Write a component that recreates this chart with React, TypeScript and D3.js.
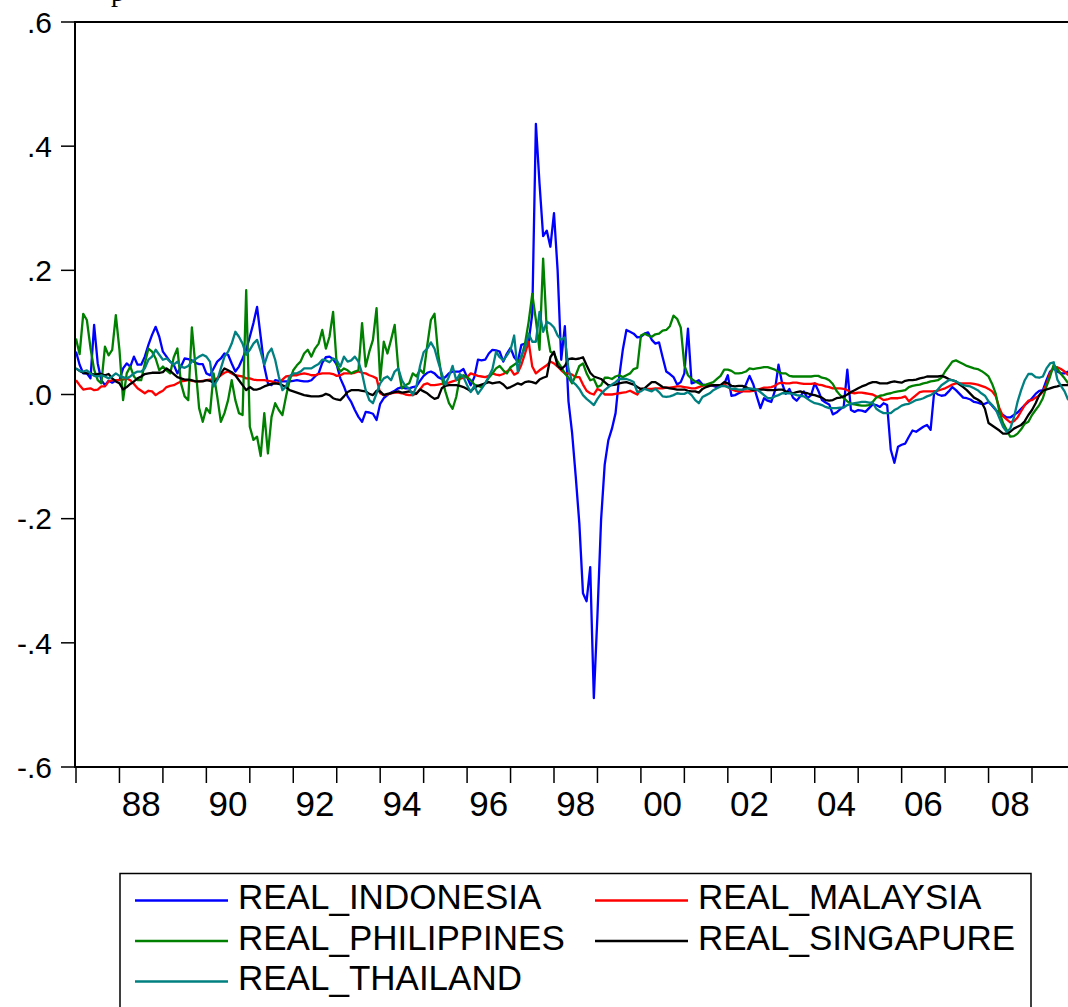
import React from "react";
import * as d3 from "d3";

// Monthly observations starting 1987M01, values in hundredths (0.01 units)
const START_YEAR = 1987;
const UNIT = 0.01;

const REAL_INDONESIA = [
  6.9,4.8,3.4,3.4,2.6,11.2,5,2.3,1.5,2.2,1.9,2.3,
  2.3,4.2,5,4.5,6.1,4.8,4.8,6.1,8,9.6,10.9,9.3,
  6.9,6.1,5.3,4.8,3.4,4.5,5.8,5.7,5.5,5.1,4.9,4.9,
  3.4,3.1,4.2,5.3,5.8,6.6,6.4,5,3.7,4.5,5.8,7.2,
  9.3,11.5,14.1,9.3,4.5,1.8,1.5,2.3,2.2,2.1,2.1,2.1,
  2.2,2.3,2.2,2.1,2.1,2.3,2.9,3.4,5.1,6,6.1,5.7,
  4.8,2.6,1.3,-0.3,-1.2,-2.5,-3.6,-4.4,-2.8,-2.9,-3.1,-4.1,
  -1.5,-0.6,-0.1,0.3,0.6,1,1.2,1,1,1.2,1.3,2.2,
  3,3.5,3.7,3.4,2.8,2.5,2.8,3.4,3.7,3.7,3.7,4.1,
  2.8,1.5,2.8,5.6,5.5,5.6,6.6,7.2,7.1,6.9,5.3,6.6,
  7.5,6,5.3,8,8.2,8.5,13,43.6,34,25.5,26.4,23.8,
  29.2,20,5.6,11,-1.1,-6.2,-13.2,-20.8,-32,-33.3,-27.8,-48.9,
  -35.5,-20.2,-11.3,-7.4,-5.5,-3,2.8,7.2,10.4,10.1,9.8,9.2,
  9.3,9.8,10,8.8,8.2,8.4,6,3.7,3.3,2.8,1.6,2,
  3.4,10.6,1.8,2,2.3,1.6,1.5,1.6,1.4,1.2,1.4,1.7,
  3.1,-0.2,-0.1,0.2,0.5,1.6,3,1.7,-0.3,-2.2,-0.6,-1,
  -1.2,0.6,4.8,1.8,0.1,0.9,-0.5,-1,-0.3,0.5,-0.6,-0.1,
  1.8,0.6,-0.9,-1.3,-1.6,-3.2,-2.9,-2.4,-2,4,-2.5,-2.8,
  -2.5,-2.6,-2.8,-2.2,-1.6,-1.7,-2,-1.4,-1.7,-8.9,-11,-8.4,
  -8.1,-7.9,-6.8,-5.8,-6,-5.6,-5.2,-4.9,-5.7,0.5,0,-0.2,
  -0.1,0.5,1.2,0.7,0.1,-0.5,-0.6,-0.8,-1.2,-1.3,-1.5,-1.5,
  -1.2,-1.8,-2.5,-3,-3.3,-3.7,-3.7,-3.3,-2.9,-2.3,-1.7,-1.2,
  -0.6,0.1,0.6,0.7,2.3,3.7,4.2,3.7,3.4,3.4,3.7,
];

const REAL_MALAYSIA = [
  2.3,1.5,0.8,0.9,1,0.7,0.8,1.3,1.3,2.1,2.3,2.3,
  2.3,2.4,2.6,2.3,1.7,1,0.6,0.2,0.6,0.5,-0.1,0.3,
  0.6,1.2,1.4,1.5,1.8,2.1,2.2,2.3,2.2,2.1,2.1,2.2,
  2.3,2.4,2.4,2.6,3.1,3.5,3.7,3.4,3.1,3,2.9,2.6,
  2.6,2.4,2.3,2.3,2.3,2.2,2.1,1.9,1.8,2.4,2.9,3,
  3.1,3.1,3.3,3.4,3.3,3.1,3.1,3.3,3.4,3.4,3.4,3.3,
  3,3.1,3.4,3.4,3.4,3.5,3.7,3.5,3.4,3.1,2.9,2.6,
  0.2,-0.1,0,0.2,0.3,0.3,0.2,0,-0.1,-0.1,0.2,0.8,
  1.6,1.8,1.5,1.5,1.6,1.7,1.8,1.9,2.1,2.3,2.5,2.7,
  2.8,3.4,3.2,3,2.9,2.8,3,3.4,3.2,3.1,3.3,3.7,
  4.1,3.2,3.5,4.8,6.6,8.5,4.5,3.4,3.9,4.3,4.7,5.3,
  5,4.5,3.9,3.4,3.4,3.2,2.8,2.8,1.6,0.6,0.2,0,
  0.9,0.6,0,0,0,0.1,0.2,0.3,0.4,0.6,0.3,0,
  0.9,0.9,0.9,0.9,1,1,1,1.1,1.1,1.2,1.3,1.3,
  1.2,1.1,1,1,1.2,1.4,1.5,1.5,1.5,1.5,1.5,1.7,
  1.2,0.8,0.6,0.5,0.5,0.5,0.5,0.6,0.7,0.9,1.1,1.1,
  1.2,1.4,1.8,1.9,1.8,1.8,1.9,1.9,1.8,1.7,1.7,1.7,
  1.8,1.6,1.5,1.3,1.2,1,1,1,0.9,0.7,0.3,0.2,
  0.3,0.3,0.2,0.1,0,-0.3,-0.5,-0.9,-0.8,-0.6,-0.6,-0.6,
  -0.5,-0.3,-1.1,-0.6,-0.1,0.4,0.5,0.5,0.5,0.5,0.6,0.8,
  1,1.3,1.6,1.8,1.8,1.8,1.8,1.8,1.7,1.6,1.4,1.2,
  0.9,0.5,-0.3,-2.2,-3.5,-4,-4.5,-4.3,-3.7,-2.7,-1.7,-1,
  -0.9,-0.5,-0.2,0.5,1.6,3.5,4.3,4.4,4.1,3.7,3.1,
];

const REAL_PHILIPPINES = [
  9,6.5,13,12,7.5,4,2.3,1.8,7.7,6.3,7.2,12.8,
  7.2,-0.9,3.4,4.5,2.9,2.3,2.3,5,7.4,6.9,5.8,3.9,
  4.5,3.9,3.4,6,7.4,1.8,-0.3,-0.9,10.8,4.5,-2.2,-4.4,
  -2.2,-3,3.4,-0.3,-4.4,-3,-0.9,2.3,-0.9,-3,-3.3,16.8,
  -5.2,-7.3,-6.8,-9.9,-3,-9.5,-3.6,-1.4,-2.5,-3.3,-0.3,2.3,
  3.9,4.7,5.3,6.6,7.2,6.1,7.4,8.2,10.4,7.4,9.3,13.3,
  4.8,3.7,4.2,3.9,3.4,3.7,3.9,11.5,4.5,6.9,8.8,13.9,
  2.3,8.5,6.6,8.8,11.2,4.2,1,1.5,1.8,3.4,2.9,4,
  3.4,7.9,12,13,6.6,2.8,0.5,-1.4,-2.3,-0.4,2.8,3.1,
  2.8,2.3,1.6,1.4,1.2,1.8,2.7,3.4,4.2,4.6,3.9,3.4,
  4.4,4.8,5.2,6,8.2,11.7,16.2,12,7.2,21.9,10.4,6.9,
  6.6,5.3,4.4,3.4,2.7,1.8,3.1,4.6,5,3.4,2.3,2.5,
  1.2,1.5,2.7,2.7,2.5,2.9,3.1,2.8,3.1,3.4,4.1,4.3,
  9.5,9.8,9.5,9.3,9.7,9.8,10.3,10.4,11,12.7,12.2,10.8,
  4.7,3.1,2.5,2.1,1.8,1.5,1.6,1.8,2,2.5,3,4,
  4,3.8,3.4,3.4,3.5,3.7,4.2,4.1,4.2,4.3,4.4,4.4,
  4.2,4,3.6,3.4,3.4,3,2.9,2.9,2.9,2.9,2.9,2.9,
  3,3,2.7,2.6,2.3,1.7,0.6,-0.1,-0.6,-1.1,-1.5,-1.6,
  -1.7,-1.8,-1.8,-1.7,-1.2,-0.5,-0.2,-0.1,0.1,0.2,0.4,0.5,
  0.6,0.7,1.2,1.4,1.5,1.6,1.8,1.9,2.1,2.2,2.3,2.7,
  3.7,4.5,5.3,5.5,5.2,4.9,4.6,4.4,4.2,4.1,3.8,3.4,
  2.9,1.7,0.1,-2.8,-4.6,-5.7,-6.8,-6.7,-6.3,-5.6,-4.7,-4.4,
  -3.3,-2.5,-1.7,-0.6,1.3,2.9,4.8,4.1,3.3,2.6,1.8,
];

const REAL_SINGAPURE = [
  4.2,3.8,3.5,3.4,3.4,3.2,3.3,3.3,3.1,3.3,2.6,2.1,
  1.8,0.8,1.2,1.7,2.1,2.6,2.9,3.3,3.4,3.5,3.5,3.5,
  3.6,4.2,3.8,3.3,2.8,2.6,2.4,2.4,2.3,2.1,2.1,2.1,
  2.3,2.2,1.9,2.4,3.4,4.2,3.9,3.6,3.1,2.3,1.5,0.7,
  1.2,0.8,0.8,1,1.3,1.5,1.7,1.8,1.7,1.5,1.2,0.7,
  0.5,0.3,0.1,-0.1,-0.2,-0.3,-0.3,-0.3,-0.2,0.1,-0.1,-0.6,
  -0.8,-0.9,-0.3,0.4,0.7,0.7,0.7,0.6,0.5,0.1,-0.1,0.6,
  0.5,-0.1,0.1,0.2,0.4,0.5,0.3,0.4,0.5,0.3,0.1,0.8,
  0.5,0.2,-0.3,-0.7,-0.5,1,1.4,1.5,1.5,1.5,1.4,1.2,
  0.9,0.5,1.1,1.4,1.6,1.8,2,1.8,1.9,2,1.6,1,
  1.2,1.5,1.8,1.6,2,2.1,2,1.8,2.4,2.7,2.9,6,
  6.9,4.6,4.1,4.6,5.7,5.8,5.7,5.8,6,4.7,3.5,2.9,
  2.7,2.5,2,1.5,1.5,1.6,1.8,1.9,2,1.8,1.6,1.2,
  0.9,1,1.5,2,2,1.6,1.2,1.1,1,0.9,0.8,0.8,
  0.8,0.6,0.5,0.5,0.3,0.9,1.2,1.4,1.5,1.5,1.5,2,
  1.8,1.4,1.3,1.4,1.4,1.2,0.9,0.7,0.8,0.8,0.8,0.7,
  0.7,0.7,0.8,0.8,0.5,0.3,0.2,0.4,0.5,0.3,0.2,0,
  -0.1,-0.3,-0.5,-0.9,-1,-0.9,-0.6,-0.5,-0.3,0,0.4,0.7,
  1,1.3,1.5,1.8,2,2,1.8,1.8,1.8,2,2.1,2,
  1.9,2.2,2.3,2.3,2.4,2.6,2.7,2.9,2.9,2.9,2.9,3,
  2.8,2.5,2.3,2.1,1.6,1.2,0.7,0.1,-0.5,-0.8,-1.2,-2.3,
  -4.6,-5,-5.4,-5.8,-6.3,-6.3,-6,-5.5,-5.2,-4.9,-4.3,-3.3,
  -2.5,-1.4,-0.1,0.6,0.8,1,1.2,1.3,1.5,1.5,1.5,
];

const REAL_THAILAND = [
  4.2,3.8,3.7,3.9,3.4,3,2.9,3.1,2.9,2.6,2.9,3.4,
  3,2.8,2.6,2.9,3.4,3.7,3.7,4.2,5.6,6.1,7.2,6.4,
  5.6,5.8,5.3,4.8,5.3,4.5,4.3,4.6,5.3,5.7,6.1,6.4,
  6.1,5.3,1.3,2.3,4.2,6.1,6.9,8.2,10.1,9.3,8.2,6.4,
  7.2,8.2,8.8,6.9,4.8,6.6,7.4,5.6,2.9,0.7,1.3,2.9,
  3.4,3.4,3.7,4.2,4.2,4.2,4.6,4.9,5.6,5.5,5.2,5.8,
  5.5,4.5,6.1,5.3,5.5,6.1,5.3,3.4,0.7,-0.9,-1.4,0.2,
  1.8,2.6,2.9,2.3,3.7,4.2,2.3,1.3,1,-0.1,1.3,4.6,
  6.8,7.4,8.4,7.4,5.3,3.4,1.6,2.9,4.6,2.3,3.3,2.8,
  1.5,0.4,1.4,0.1,0.9,1.8,2.9,4.1,6.9,6,5.5,6.3,
  7.2,9.5,3.7,6.3,7.5,9.8,8.5,8.5,13.3,10.1,11.7,11.4,
  10.8,9.5,8.8,9.2,4.1,2.1,1.6,0.9,-0.1,-0.7,-1.2,-1.7,
  -0.7,0.1,0.7,1.2,1.6,2,2.5,2.5,2.5,2.3,2,0.4,
  0.5,0.9,0.7,0.5,0.9,0.4,-0.3,-0.4,-0.3,-0.1,0.2,0.1,
  0.1,0.4,-0.1,-0.9,-1.4,-0.4,-0.1,0.2,0.7,1,1.3,1.4,
  1.2,0.9,0.9,0.8,0.8,0.9,1,0.9,0.8,0.4,-0.1,-0.6,
  -0.6,-0.3,-0.1,0.2,0.2,0.2,0.1,-0.1,-0.2,-0.3,-0.7,-1.1,
  -1.4,-1.5,-1.7,-2,-2.2,-2.2,-2.2,-2.1,-2.1,-1.7,-1.5,-1.4,
  -1.3,-1.2,-1.2,-1.3,-1.3,-2.3,-2.7,-3,-3,-3,-2.5,-2.2,
  -1.8,-1.6,-1.5,-1.2,-0.9,-0.8,-0.6,-0.3,-0.1,0.3,0.8,1.5,
  1.9,2.3,2.3,2.1,1.8,1.5,1.4,1.3,1,0.7,0.2,-0.2,
  -1.1,-1.7,-2.4,-3.8,-5.2,-6,-5.5,-3.7,-1.2,0.7,2.3,3.3,
  3.3,2.8,2.7,2.9,4.2,5,5.2,2.4,1.4,0.5,-0.9,
];

const SERIES_NAMES = ["REAL_INDONESIA", "REAL_MALAYSIA", "REAL_PHILIPPINES", "REAL_SINGAPURE", "REAL_THAILAND"];
const SERIES_VALUES = [REAL_INDONESIA, REAL_MALAYSIA, REAL_PHILIPPINES, REAL_SINGAPURE, REAL_THAILAND];
const SERIES_COLORS = ["#0000ff", "#ff0000", "#008000", "#000000", "#008080"];

const TICK_YEARS = d3.range(1987, 2010);
const LABEL_YEARS = [1988, 1990, 1992, 1994, 1996, 1998, 2000, 2002, 2004, 2006, 2008];
const LABEL_TEXTS = ["88", "90", "92", "94", "96", "98", "00", "02", "04", "06", "08"];
const Y_TICKS = [-0.6, -0.4, -0.2, 0, 0.2, 0.4, 0.6];
const Y_LABELS = ["-.6", "-.4", "-.2", ".0", ".2", ".4", ".6"];

const W = 1068;
const H = 1007;
const FONT = "'Liberation Sans', Arial, Helvetica, sans-serif";

export default function App() {
  const x = d3.scaleLinear().domain([1987, 2009]).range([76, 1032]);
  const y = d3.scaleLinear().domain([-0.6, 0.6]).range([767, 22]);
  const left = 75;
  const top = 22;
  const bottom = 767;
  const right = 1080;

  const line = d3
    .line<number>()
    .x((_, i) => x(START_YEAR + i / 12))
    .y((d) => y(d * UNIT));

  const legRows = [900.5, 941, 981.5];
  const legItems = SERIES_NAMES.map((name, i) => ({
    name,
    color: SERIES_COLORS[i],
    col: i % 2,
    row: Math.floor(i / 2),
  }));
  const colX = [135, 595];

  return (
    <svg
      width={W}
      height={H}
      viewBox={`0 0 ${W} ${H}`}
      style={{ position: "absolute", left: 0, top: 0, background: "#fff" }}
    >
      <rect x={0} y={0} width={W} height={H} fill="#fff" />
      {/* cropped title fragment, as in the reference */}
      <text x={111} y={1} fontFamily="'Liberation Serif', 'Times New Roman', serif" fontSize={28} fill="#000">
        p
      </text>

      <defs>
        <clipPath id="plotclip">
          <rect x={left} y={top - 2} width={right - left} height={bottom - top + 4} />
        </clipPath>
      </defs>

      <g clipPath="url(#plotclip)">
        {SERIES_VALUES.map((vals, i) => (
          <path
            key={SERIES_NAMES[i]}
            d={line(vals) || ""}
            fill="none"
            stroke={SERIES_COLORS[i]}
            strokeWidth={2.3}
            strokeLinejoin="round"
          />
        ))}
      </g>

      {/* frame */}
      <line x1={left} y1={top} x2={right} y2={top} stroke="#000" strokeWidth={2} />
      <line x1={left} y1={bottom} x2={right} y2={bottom} stroke="#000" strokeWidth={2} />
      <line x1={left} y1={top - 1} x2={left} y2={bottom + 1} stroke="#000" strokeWidth={2} />

      {/* y axis */}
      {Y_TICKS.map((t, i) => (
        <g key={`y${i}`}>
          <line x1={61} x2={left} y1={y(t)} y2={y(t)} stroke="#000" strokeWidth={1.5} />
          <text
            x={52}
            y={y(t)}
            dy="0.36em"
            textAnchor="end"
            fontFamily={FONT}
            fontSize={30}
            fill="#000"
          >
            {Y_LABELS[i]}
          </text>
        </g>
      ))}

      {/* x axis */}
      {TICK_YEARS.map((yr) => (
        <line key={`xt${yr}`} x1={x(yr)} x2={x(yr)} y1={bottom + 1} y2={bottom + 16} stroke="#000" strokeWidth={1.5} />
      ))}
      {LABEL_YEARS.map((yr, i) => (
        <text
          key={`xl${yr}`}
          x={x(yr + 0.5)}
          y={816}
          textAnchor="middle"
          fontFamily={FONT}
          fontSize={35}
          fill="#000"
        >
          {LABEL_TEXTS[i]}
        </text>
      ))}

      {/* legend */}
      <rect x={120} y={873.5} width={911} height={150} fill="#fff" stroke="#000" strokeWidth={1.5} />
      {legItems.map((it) => (
        <g key={it.name}>
          <line
            x1={colX[it.col]}
            x2={colX[it.col] + 93}
            y1={legRows[it.row]}
            y2={legRows[it.row]}
            stroke={it.color}
            strokeWidth={2.5}
          />
          <text
            x={colX[it.col] + 103}
            y={legRows[it.row] + 8.5}
            fontFamily={FONT}
            fontSize={35}
            fill="#000"
          >
            {it.name}
          </text>
        </g>
      ))}
    </svg>
  );
}
